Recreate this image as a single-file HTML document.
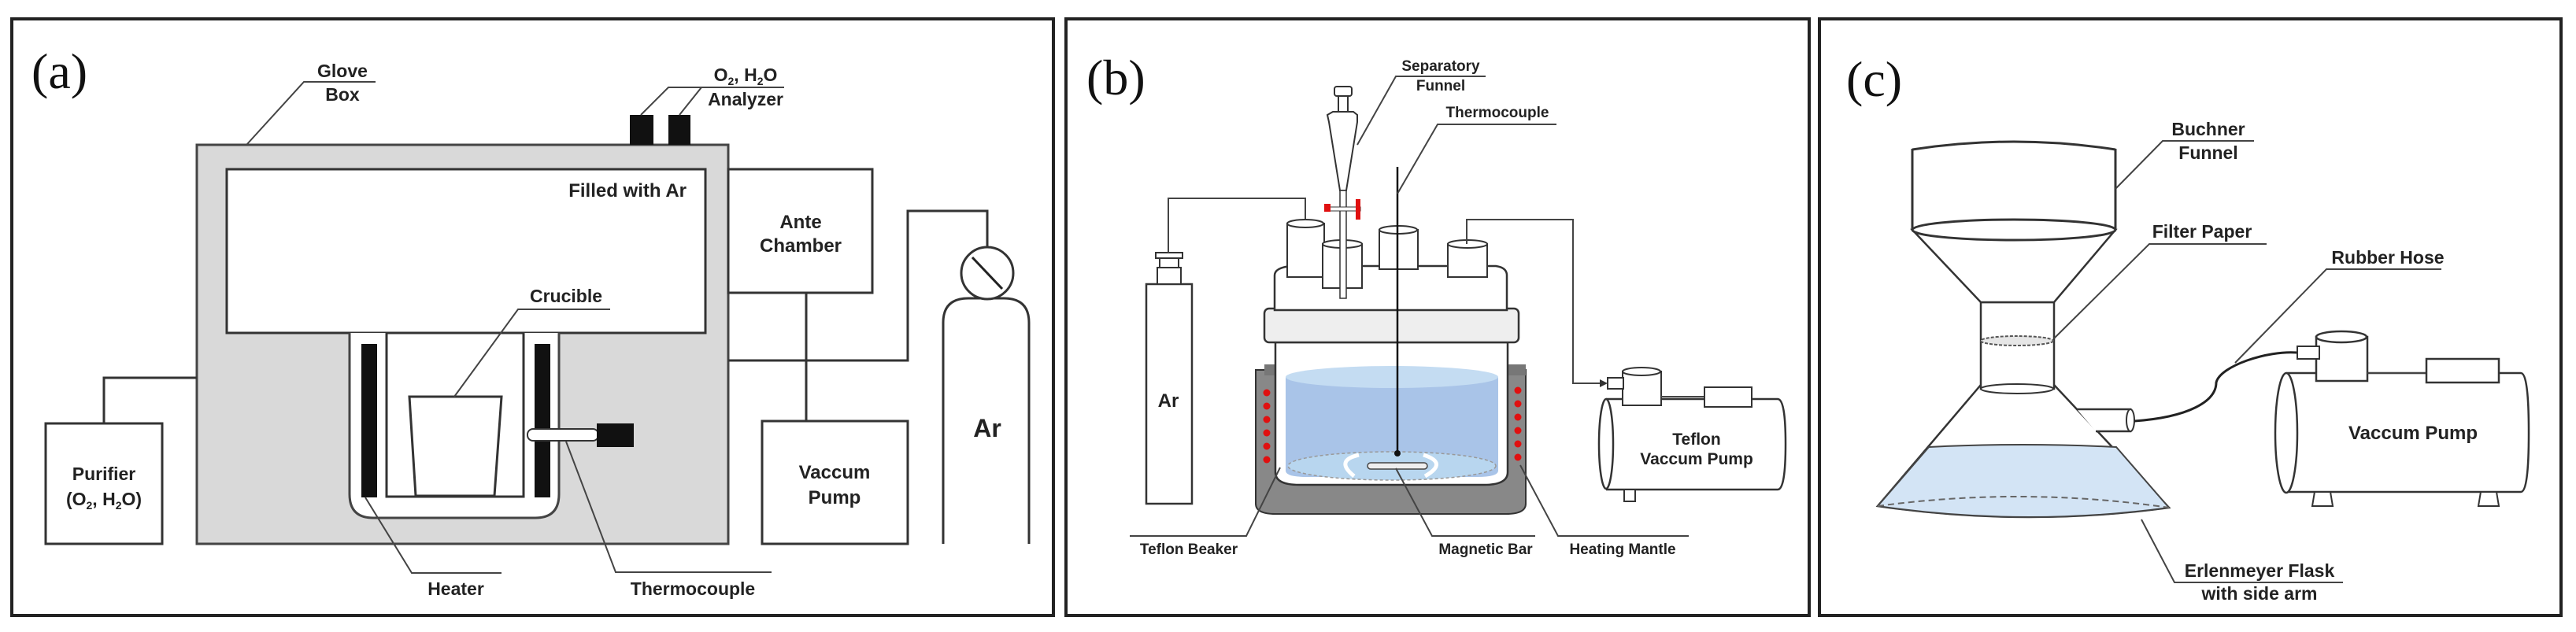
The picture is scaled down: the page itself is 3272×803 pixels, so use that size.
<!DOCTYPE html>
<html><head><meta charset="utf-8"><style>
html,body{margin:0;padding:0;background:#fff;}
svg{display:block;}
.l{font-family:"Liberation Sans Narrow","Liberation Sans",sans-serif;font-weight:bold;fill:#222;text-anchor:middle;}
.s{stroke:#333;stroke-width:3;fill:none;}
.t{stroke:#444;stroke-width:2;fill:none;}
.p{font-family:"Liberation Serif",serif;font-size:64px;fill:#111;}
</style></head><body>
<svg width="3272" height="803" viewBox="0 0 3272 803" xmlns="http://www.w3.org/2000/svg">
<!-- panel borders -->
<rect x="15" y="24" width="1323" height="758" fill="#fff" stroke="#222" stroke-width="4"/>
<rect x="1354" y="24" width="944" height="758" fill="#fff" stroke="#222" stroke-width="4"/>
<rect x="2311" y="24" width="942" height="758" fill="#fff" stroke="#222" stroke-width="4"/>
<text class="p" x="40" y="112">(a)</text>
<text class="p" x="1380" y="120">(b)</text>
<text class="p" x="2345" y="122">(c)</text>

<!-- ===== Panel a ===== -->
<rect x="250" y="184" width="675" height="507" fill="#d9d9d9" stroke="#444" stroke-width="3"/>
<rect x="288" y="215" width="608" height="208" fill="#fff" stroke="#333" stroke-width="3"/>
<text class="l" x="872" y="250" font-size="24" text-anchor="end" style="text-anchor:end">Filled with Ar</text>
<path d="M444,423 V628 Q444,658 474,658 H680 Q710,658 710,628 V423" fill="#fff" stroke="#444" stroke-width="3"/>
<rect x="491" y="423" width="174" height="208" fill="#fff" stroke="#333" stroke-width="3"/>
<rect x="459" y="437" width="20" height="195" fill="#111"/>
<rect x="679" y="437" width="20" height="195" fill="#111"/>
<polygon points="520,504 637,504 628,630 528,630" fill="#fff" stroke="#333" stroke-width="3"/>
<rect x="670" y="545" width="90" height="15" rx="7" fill="#fff" stroke="#333" stroke-width="2"/>
<rect x="758" y="538" width="47" height="30" fill="#111"/>
<rect x="800" y="146" width="30" height="38" fill="#111"/>
<rect x="849" y="146" width="28" height="38" fill="#111"/>
<!-- ante chamber -->
<rect x="925" y="215" width="183" height="157" fill="#fff" stroke="#333" stroke-width="3"/>
<text class="l" x="1017" y="290" font-size="24">Ante</text>
<text class="l" x="1017" y="320" font-size="24">Chamber</text>
<line class="s" x1="1024" y1="372" x2="1024" y2="535"/>
<rect x="968" y="535" width="185" height="156" fill="#fff" stroke="#333" stroke-width="3"/>
<text class="l" x="1060" y="608" font-size="24">Vaccum</text>
<text class="l" x="1060" y="640" font-size="24">Pump</text>
<path class="s" d="M925,458 H1153 V268 H1254 V315"/>
<!-- Ar cylinder -->
<path d="M1198,691 V410 Q1198,379 1230,379 H1275 Q1307,379 1307,410 V691" fill="#fff" stroke="#333" stroke-width="3"/>
<circle cx="1254" cy="347" r="33" fill="#fff" stroke="#333" stroke-width="3"/>
<line x1="1235" y1="327" x2="1273" y2="367" stroke="#222" stroke-width="3"/>
<text class="l" x="1254" y="555" font-size="32">Ar</text>
<!-- purifier -->
<rect x="58" y="538" width="148" height="153" fill="#fff" stroke="#333" stroke-width="3"/>
<path class="s" d="M132,538 V480 H250"/>
<text class="l" x="132" y="610" font-size="23">Purifier</text>
<text class="l" x="132" y="642" font-size="23">(O<tspan font-size="14" dy="5">2</tspan><tspan dy="-5">, H</tspan><tspan font-size="14" dy="5">2</tspan><tspan dy="-5">O)</tspan></text>
<!-- labels a -->
<text class="l" x="435" y="98" font-size="23">Glove</text>
<text class="l" x="435" y="128" font-size="23">Box</text>
<path class="t" d="M477,104 H386 L314,183"/>
<text class="l" x="947" y="103" font-size="23">O<tspan font-size="14" dy="5">2</tspan><tspan dy="-5">, H</tspan><tspan font-size="14" dy="5">2</tspan><tspan dy="-5">O</tspan></text>
<text class="l" x="947" y="134" font-size="23">Analyzer</text>
<path class="t" d="M996,111 H849 L814,146 M891,111 L863,146"/>
<text class="l" x="719" y="384" font-size="23">Crucible</text>
<path class="t" d="M775,393 H658 L577,504"/>
<path class="t" d="M637,728 H523 L464,632"/>
<text class="l" x="579" y="756" font-size="23">Heater</text>
<path class="t" d="M980,727 H782 L719,561"/>
<text class="l" x="880" y="756" font-size="23">Thermocouple</text>

<!-- ===== Panel b ===== -->
<!-- Ar cylinder -->
<rect x="1456" y="361" width="58" height="279" fill="#fff" stroke="#333" stroke-width="2.5"/>
<rect x="1470" y="340" width="30" height="21" fill="#fff" stroke="#333" stroke-width="2"/>
<rect x="1473" y="328" width="24" height="12" fill="#fff" stroke="#333" stroke-width="2"/>
<rect x="1468" y="321" width="34" height="7" fill="#fff" stroke="#333" stroke-width="2"/>
<text class="l" x="1484" y="517" font-size="24">Ar</text>
<path class="t" d="M1484,321 V252 H1658 V340"/>
<polygon points="1653,336 1663,336 1658,346" fill="#333"/>
<!-- mantle -->
<path d="M1595,470 V640 Q1595,653 1620,653 H1913 Q1938,653 1938,640 V470 Z" fill="#888" stroke="#333" stroke-width="2"/>
<rect x="1606" y="463" width="332" height="14" fill="#777"/>
<!-- glass -->
<path d="M1620,435 V600 Q1620,616 1650,616 H1885 Q1915,616 1915,600 V435 Z" fill="#fff" stroke="#333" stroke-width="2.5"/>
<path d="M1633,479 V598 Q1633,606 1660,606 H1876 Q1903,606 1903,598 V479 Z" fill="#a9c4e8"/>
<ellipse cx="1768" cy="479" rx="135" ry="14" fill="#c4dcf2"/>
<ellipse cx="1768" cy="592" rx="132" ry="18" fill="#b8d6ef" stroke="#999" stroke-dasharray="4 3" stroke-width="1.5"/>
<rect x="1737" y="588" width="76" height="8" rx="4" fill="#eee" stroke="#444" stroke-width="1.5"/>
<path d="M1726,578 Q1695,585 1720,605" stroke="#fff" stroke-width="5" fill="none"/>
<path d="M1808,578 Q1840,588 1810,605" stroke="#fff" stroke-width="5" fill="none"/>
<!-- red dots -->
<g fill="#e01010">
<circle cx="1609" cy="499" r="4.5"/><circle cx="1609" cy="516" r="4.5"/><circle cx="1609" cy="533" r="4.5"/><circle cx="1609" cy="550" r="4.5"/><circle cx="1609" cy="567" r="4.5"/><circle cx="1609" cy="584" r="4.5"/>
<circle cx="1928" cy="496" r="4.5"/><circle cx="1928" cy="513" r="4.5"/><circle cx="1928" cy="530" r="4.5"/><circle cx="1928" cy="547" r="4.5"/><circle cx="1928" cy="564" r="4.5"/><circle cx="1928" cy="581" r="4.5"/>
</g>
<!-- flange -->
<rect x="1606" y="392" width="323" height="43" rx="6" fill="#eee" stroke="#333" stroke-width="2.5"/>
<!-- lid -->
<path d="M1619,394 V350 Q1619,340 1640,338 L1900,338 Q1914,340 1914,350 V394 Z" fill="#fff" stroke="#333" stroke-width="2.5"/>
<!-- necks -->
<rect x="1635" y="284" width="47" height="68" fill="#fff" stroke="#333" stroke-width="2"/><ellipse cx="1658" cy="284" rx="23" ry="5" fill="#fff" stroke="#333" stroke-width="2"/>
<rect x="1680" y="310" width="50" height="56" fill="#fff" stroke="#333" stroke-width="2"/><ellipse cx="1705" cy="310" rx="25" ry="5" fill="#fff" stroke="#333" stroke-width="2"/>
<rect x="1752" y="292" width="49" height="50" fill="#fff" stroke="#333" stroke-width="2"/><ellipse cx="1776" cy="292" rx="24" ry="5" fill="#fff" stroke="#333" stroke-width="2"/>
<rect x="1839" y="310" width="50" height="42" fill="#fff" stroke="#333" stroke-width="2"/><ellipse cx="1864" cy="310" rx="25" ry="5" fill="#fff" stroke="#333" stroke-width="2"/>
<!-- funnel -->
<rect x="1695" y="110" width="22" height="12" rx="3" fill="#fff" stroke="#333" stroke-width="2"/>
<rect x="1700" y="122" width="12" height="20" fill="#fff" stroke="#333" stroke-width="2"/>
<path d="M1686,146 L1693,142 H1719 L1724,146 V155 L1710,242 H1702 L1688,155 Z" fill="#fff" stroke="#333" stroke-width="2"/>
<rect x="1702" y="242" width="8" height="137" fill="#fff" stroke="#333" stroke-width="1.5"/>
<rect x="1684" y="263" width="44" height="5" fill="#fff" stroke="#333" stroke-width="1"/>
<rect x="1682" y="259" width="8" height="10" fill="#e01010"/>
<rect x="1722" y="253" width="6" height="26" fill="#e01010"/>
<!-- thermocouple -->
<line x1="1775" y1="212" x2="1775" y2="576" stroke="#111" stroke-width="2.5"/>
<circle cx="1775" cy="576" r="4" fill="#111"/>
<!-- pump line -->
<path class="t" d="M1863,310 V279 H1998 V487 H2036"/>
<polygon points="2032,482 2042,487 2032,492" fill="#333"/>
<!-- teflon pump -->
<path d="M2040,507 H2258 Q2268,507 2268,564 Q2268,622 2258,622 H2040" fill="#fff" stroke="#333" stroke-width="2.5"/>
<ellipse cx="2040" cy="564" rx="9" ry="57" fill="#fff" stroke="#333" stroke-width="2.5"/>
<rect x="2061" y="472" width="49" height="43" fill="#fff" stroke="#333" stroke-width="2"/>
<ellipse cx="2085" cy="472" rx="24" ry="5" fill="#fff" stroke="#333" stroke-width="2"/>
<rect x="2042" y="480" width="20" height="14" fill="#fff" stroke="#333" stroke-width="2"/>
<line class="t" x1="2110" y1="504" x2="2165" y2="504"/>
<rect x="2165" y="492" width="60" height="25" fill="#fff" stroke="#333" stroke-width="2"/>
<rect x="2063" y="622" width="14" height="15" fill="#fff" stroke="#333" stroke-width="2"/>
<text class="l" x="2155" y="565" font-size="21">Teflon</text>
<text class="l" x="2155" y="590" font-size="21">Vaccum Pump</text>
<!-- labels b -->
<text class="l" x="1830" y="90" font-size="19">Separatory</text>
<text class="l" x="1830" y="115" font-size="19">Funnel</text>
<path class="t" d="M1887,97 H1773 L1724,184"/>
<text class="l" x="1902" y="149" font-size="19">Thermocouple</text>
<path class="t" d="M1977,158 H1826 L1775,246"/>
<path class="t" d="M1435,681 H1583 L1626,594"/>
<text class="l" x="1510" y="704" font-size="19">Teflon Beaker</text>
<path class="t" d="M1950,681 H1819 L1773,595"/>
<text class="l" x="1887" y="704" font-size="19">Magnetic Bar</text>
<path class="t" d="M2145,681 H1979 L1931,591"/>
<text class="l" x="2061" y="704" font-size="19">Heating Mantle</text>

<!-- ===== Panel c ===== -->
<!-- flask -->
<path d="M2516,489 L2385,643 Q2570,670 2755,645 L2609,489 Z" fill="#fff" stroke="#333" stroke-width="2.5"/>
<path d="M2450,568 Q2570,562 2688,568 L2755,645 Q2570,670 2385,643 Z" fill="#d3e4f5" stroke="#444" stroke-width="2"/>
<path d="M2385,643 Q2570,618 2755,645" fill="none" stroke="#666" stroke-width="2" stroke-dasharray="8 5"/>
<!-- side arm -->
<path d="M2638,520 H2706 V548 H2662" fill="#fff" stroke="#333" stroke-width="2.5"/>
<ellipse cx="2706" cy="534" rx="5" ry="14" fill="#fff" stroke="#333" stroke-width="2"/>
<!-- neck -->
<rect x="2516" y="384" width="93" height="110" fill="#fff" stroke="#333" stroke-width="2.5"/>
<ellipse cx="2562" cy="494" rx="46" ry="6" fill="#fff" stroke="#333" stroke-width="2"/>
<ellipse cx="2562" cy="433" rx="46" ry="6" fill="#e6e6e6" stroke="#555" stroke-width="2" stroke-dasharray="4 2"/>
<!-- cone -->
<polygon points="2429,292 2687,292 2609,384 2516,384" fill="#fff" stroke="#333" stroke-width="2.5"/>
<path d="M2429,189 V292 M2687,189 V292" class="s"/>
<path d="M2429,190 Q2558,170 2687,190" class="s"/>
<ellipse cx="2558" cy="292" rx="129" ry="13" fill="#fff" stroke="#333" stroke-width="3"/>
<!-- hose -->
<path d="M2711,535 C2780,530 2815,510 2815,486 C2820,465 2880,445 2918,448" fill="none" stroke="#222" stroke-width="3"/>
<!-- pump -->
<path d="M2904,474 H3202 Q3212,474 3212,550 Q3212,625 3202,625 H2904" fill="#fff" stroke="#333" stroke-width="2.5"/>
<ellipse cx="2904" cy="550" rx="14" ry="76" fill="#fff" stroke="#333" stroke-width="2.5"/>
<rect x="2942" y="428" width="65" height="56" fill="#fff" stroke="#333" stroke-width="2.5"/>
<ellipse cx="2974" cy="428" rx="32" ry="7" fill="#fff" stroke="#333" stroke-width="2.5"/>
<rect x="2918" y="440" width="28" height="16" fill="#fff" stroke="#333" stroke-width="2"/>
<line class="t" x1="3007" y1="474" x2="3082" y2="474"/>
<rect x="3082" y="456" width="92" height="30" fill="#fff" stroke="#333" stroke-width="2.5"/>
<polygon points="2940,625 2960,625 2963,643 2937,643" fill="#fff" stroke="#333" stroke-width="2"/>
<polygon points="3151,625 3171,625 3174,643 3148,643" fill="#fff" stroke="#333" stroke-width="2"/>
<text class="l" x="3065" y="558" font-size="24">Vaccum Pump</text>
<!-- labels c -->
<text class="l" x="2805" y="172" font-size="23">Buchner</text>
<text class="l" x="2805" y="202" font-size="23">Funnel</text>
<path class="t" d="M2863,179 H2747 L2687,240"/>
<text class="l" x="2797" y="302" font-size="23">Filter Paper</text>
<path class="t" d="M2879,310 H2730 L2609,430"/>
<text class="l" x="3033" y="335" font-size="23">Rubber Hose</text>
<path class="t" d="M3101,342 H2955 L2839,461"/>
<text class="l" x="2870" y="733" font-size="23">Erlenmeyer Flask</text>
<text class="l" x="2870" y="762" font-size="23">with side arm</text>
<path class="t" d="M2976,740 H2762 L2720,660"/>
</svg>
</body></html>
